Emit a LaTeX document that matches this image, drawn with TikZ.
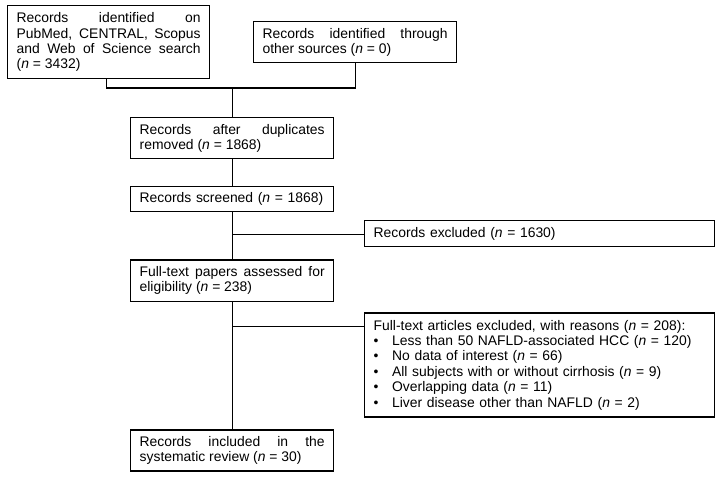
\documentclass[tikz,border=0pt]{standalone}
\usepackage{fontspec}
\setmainfont{Liberation Sans}
\begin{document}
\begin{tikzpicture}[x=1pt,y=1pt,
  box/.style={draw, line width=1.3pt, inner xsep=9pt, inner ysep=1pt, anchor=north west,
    font=\fontsize{13.9}{15.4}\selectfont},
  jbox/.style={box, align=justify},
  lbox/.style={box, align=left},
  conn/.style={line width=1.3pt}]
\useasboundingbox (0,0) rectangle (723,-477);
\node[jbox, text width=184pt, minimum height=73pt] (a) at (7,-5)
  {Records identified on\linebreak PubMed, CENTRAL, Scopus\linebreak and Web of Science search\linebreak (\textit{n} = 3432)};
\node[jbox, text width=185pt, minimum height=41pt] (b) at (253,-21)
  {Records identified through\linebreak other sources (\textit{n} = 0)};
\node[jbox, text width=185pt, minimum height=41pt] (c) at (130,-117)
  {Records after duplicates\linebreak removed (\textit{n} = 1868)};
\node[lbox, text width=185pt, minimum height=25pt] (d) at (130,-186)
  {Records screened (\textit{n} = 1868)};
\node[lbox, text width=332pt, minimum height=26.5pt] (f) at (364,-219.5)
  {Records excluded (\textit{n} = 1630)};
\node[jbox, text width=185pt, minimum height=41.5pt] (e) at (130,-259.3)
  {Full-text papers assessed for\linebreak eligibility (\textit{n} = 238)};
\node[lbox, text width=332pt, minimum height=104pt] (g) at (364,-312.3)
  {Full-text articles excluded, with reasons (\textit{n} = 208):\\
   \makebox[18.5pt][l]{\textbullet}Less than 50 NAFLD-associated HCC (\textit{n} = 120)\\
   \makebox[18.5pt][l]{\textbullet}No data of interest (\textit{n} = 66)\\
   \makebox[18.5pt][l]{\textbullet}All subjects with or without cirrhosis (\textit{n} = 9)\\
   \makebox[18.5pt][l]{\textbullet}Overlapping data (\textit{n} = 11)\\
   \makebox[18.5pt][l]{\textbullet}Liver disease other than NAFLD (\textit{n} = 2)};
\node[jbox, text width=185pt, minimum height=41pt] (h) at (130,-429.3)
  {Records included in the\linebreak systematic review (\textit{n} = 30)};
\coordinate (j1) at (c.north |- 0,-88);
\coordinate (j2) at (d.south |- 0,-234.3);
\coordinate (j3) at (e.south |- 0,-326.7);
\draw[conn] ([xshift=-2pt]a.south) |- (j1) -| (b.south);
\draw[conn] (j1) -- (c.north);
\draw[conn] (c.south) -- (d.north);
\draw[conn] (d.south) -- (e.north);
\draw[conn] (j2) -- (j2 -| f.west);
\draw[conn] (e.south) -- (h.north);
\draw[conn] (j3) -- (j3 -| g.west);
\end{tikzpicture}
\end{document}
